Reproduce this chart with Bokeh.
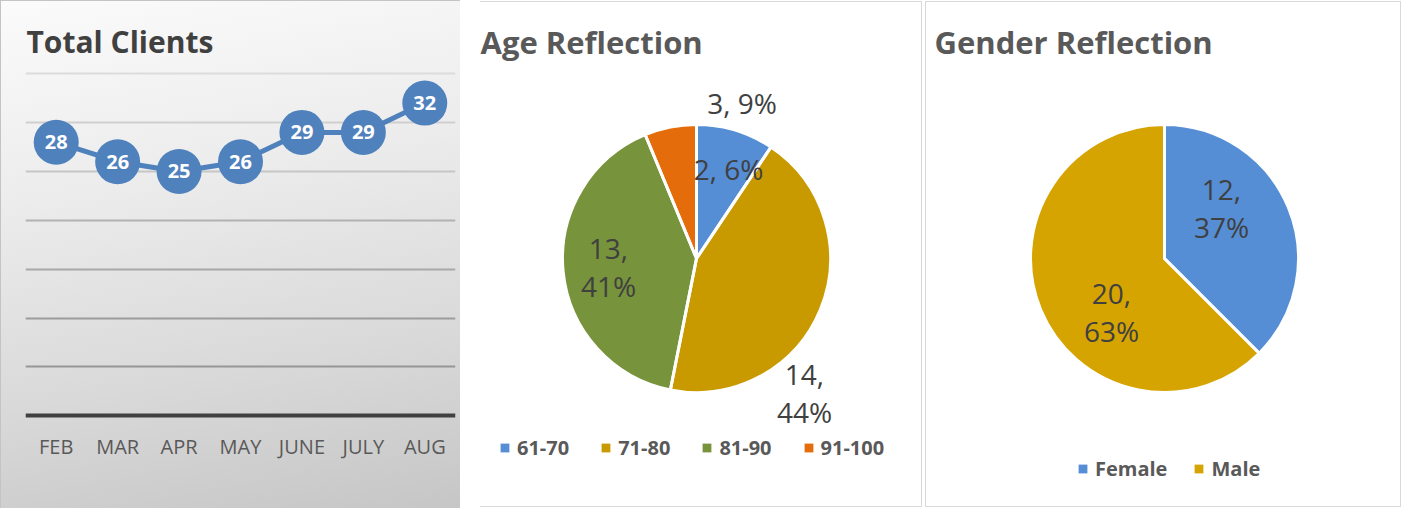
import math
from bokeh.plotting import figure
from bokeh.models import (FactorRange, Range1d, Label, Legend, LegendItem,
                          ColumnDataSource, FixedTicker, Grid)
from bokeh.layouts import row
from bokeh.embed import file_html
from bokeh.resources import INLINE
from bokeh.core.properties import value

# ---------------- data ----------------
months = ["FEB", "MAR", "APR", "MAY", "JUNE", "JULY", "AUG"]
clients = [28, 26, 25, 26, 29, 29, 32]

age_groups = ["61-70", "71-80", "81-90", "91-100"]
age_counts = [3, 14, 13, 2]
age_pct = [9, 44, 41, 6]

genders = ["Female", "Male"]
gender_counts = [12, 20]
gender_pct = [37, 63]

y_levels = [5, 10, 15, 20, 25, 30, 35]

# ---------------- styles ----------------
FONT = "Open Sans"
LINE_BLUE = "#4F81BD"
age_colors = ["#558ED5", "#C99A00", "#77933C", "#E46C0A"]
gender_colors = ["#558ED5", "#D6A400"]
grid_colors = ["#969696", "#9c9c9c", "#a8a8a8", "#b2b2b2", "#c6c6c6", "#cfcfcf", "#dcdcdc"]
H = 508
BORDER = "#d9d9d9"

# ---------------- panel 1: line chart ----------------
p1 = figure(width=460, height=H, x_range=FactorRange(*months, range_padding=0),
            y_range=Range1d(-9.49, 42.5), output_backend="svg", toolbar_location=None,
            x_axis_location=None, y_axis_location=None,
            min_border_left=25, min_border_right=5, min_border_top=0, min_border_bottom=0)
p1.grid.visible = False
p1.styles = {"background": "linear-gradient(170deg, #fbfbfb 0%, #ececec 35%, #d9d9d9 70%, #c6c6c6 100%)",
             "box-shadow": "inset 1px 1px 0 #c4c4c4"}
p1.background_fill_alpha = 0
p1.border_fill_alpha = 0
p1.outline_line_color = None
for lv, gc in zip(y_levels, grid_colors):
    p1.add_layout(Grid(dimension=1, ticker=FixedTicker(ticks=[lv]),
                       grid_line_color=gc, grid_line_width=2))
# category axis line
p1.add_layout(Grid(dimension=1, ticker=FixedTicker(ticks=[0]),
                   grid_line_color="#404040", grid_line_width=4))

p1.line(x=months, y=clients, line_color=LINE_BLUE, line_width=5)
p1.scatter(x=months, y=clients, size=45, marker="circle", fill_color=LINE_BLUE, line_color=None)
p1.text(x=months, y=clients, text=[str(v) for v in clients], text_font=value(FONT),
        text_font_style="bold", text_font_size="20px", text_color="white",
        text_align="center", text_baseline="middle")
# category labels
p1.text(x=months, y=-3.1, text=months, text_font=value(FONT), text_font_size="20px",
        text_color="#595959", text_align="center", text_baseline="alphabetic")
p1.add_layout(Label(x=0.016, y=38.35, text="Total Clients",
                    text_font=FONT, text_font_size="30px", text_font_style="bold",
                    text_color="#404040", text_baseline="alphabetic"))


# ---------------- pies ----------------
def pie(width, cats, counts, pct, colors, breaks, title, title_x, cx, cy, radius,
        label_offsets, legend_x, legend_y, legend_spacing, styles):
    p = figure(width=width, height=H, x_range=Range1d(0, width), y_range=Range1d(0, H),
               output_backend="svg", toolbar_location=None, x_axis_location=None,
               y_axis_location=None, min_border=0)
    p.grid.visible = False
    p.styles = styles
    p.background_fill_alpha = 0
    p.border_fill_alpha = 0
    p.outline_line_color = None
    total = sum(counts)
    starts, ends, acc = [], [], 0
    for c in counts:
        starts.append(math.pi / 2 - 2 * math.pi * acc / total)
        acc += c
        ends.append(math.pi / 2 - 2 * math.pi * acc / total)
    labels = [f"{c},{b}{q}%" for c, b, q in zip(counts, breaks, pct)]
    src = ColumnDataSource(dict(cat=cats, count=counts, start=starts, end=ends, color=colors,
                                label=labels,
                                lx=[cx + dx for dx, dy in label_offsets],
                                ly=[cy + dy for dx, dy in label_offsets]))
    r = p.wedge(x=cx, y=cy, radius=radius, start_angle="start", end_angle="end",
                direction="clock", fill_color="color", line_color=None, source=src)
    # white separators between slices
    p.wedge(x=cx, y=cy, radius=radius, start_angle="start", end_angle="end",
            direction="clock", fill_alpha=0, line_color="white", line_width=3, source=src)
    p.text(x="lx", y="ly", text="label", source=src, text_font=value(FONT),
           text_font_size="28px", text_color="#404040", text_align="center",
           text_baseline="middle", text_line_height=1.0)
    p.add_layout(Label(x=title_x, y=467, text=title, text_font=FONT, text_font_size="31px",
                       text_font_style="bold", text_color="#595959", text_baseline="alphabetic"))
    items = [LegendItem(label=c, renderers=[r], index=i) for i, c in enumerate(cats)]
    leg = Legend(items=items, orientation="horizontal", location=(legend_x, legend_y),
                 glyph_width=11, glyph_height=11, label_standoff=7, spacing=legend_spacing,
                 padding=0, margin=0, border_line_color=None, background_fill_alpha=0,
                 label_text_font=FONT, label_text_font_size="20px",
                 label_text_font_style="bold", label_text_color="#595959")
    p.add_layout(leg)
    return p


def line_bg(x, y, w, h):
    return f"linear-gradient({BORDER},{BORDER}) {x}px {y}px / {w}px {h}px no-repeat"


p2 = pie(462, age_groups, age_counts, age_pct, age_colors, [" ", "\n", "\n", " "],
         "Age Reflection", 20, 236, 250, 134,
         [(45.5, 155.5), (108, -134), (-88, -8), (32, 90)],
         39, 47, 31,
         {"background": ", ".join([line_bg(20, 1, 442, 1), line_bg(20, 506, 442, 1),
                                   line_bg(461, 1, 1, 506)]) + ", white"})

p3 = pie(480, genders, gender_counts, gender_pct, gender_colors, ["\n", "\n"],
         "Gender Reflection", 12, 242, 250, 134,
         [(57, 50.5), (-53, -53)],
         155, 26, 26,
         {"background": ", ".join([line_bg(3, 1, 476, 1), line_bg(3, 506, 476, 1),
                                   line_bg(3, 1, 1, 506), line_bg(478, 1, 1, 506)]) + ", white"})

layout = row(p1, p2, p3)
open("out.html", "w").write(file_html(layout, INLINE))
